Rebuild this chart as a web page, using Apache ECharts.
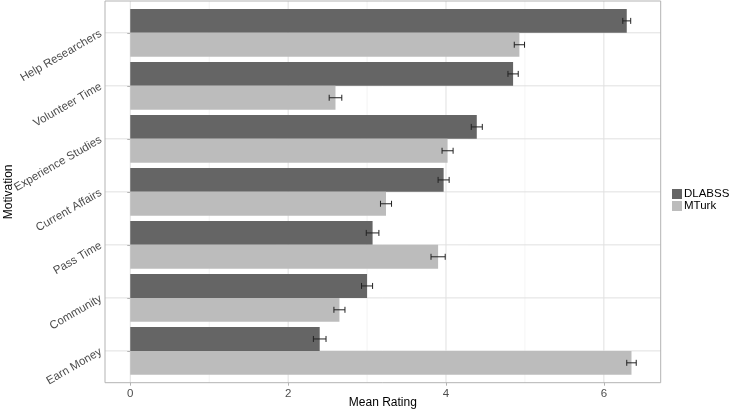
<!DOCTYPE html>
<html><head><meta charset="utf-8">
<script src="https://cdn.jsdelivr.net/npm/echarts@6/dist/echarts.min.js"></script>
<style>html,body{margin:0;padding:0;background:#fff}#c{width:729px;height:410px}</style>
</head><body><div id="c"></div>
<script>
const categories = ['Help Researchers','Volunteer Time','Experience Studies','Current Affairs','Pass Time','Community','Earn Money'];
const seriesNames = ['DLABSS','MTurk'];
const dlabss = [6.29, 4.85, 4.39, 3.97, 3.07, 3.00, 2.40];
const dlabssErr = [0.05, 0.065, 0.07, 0.07, 0.08, 0.07, 0.08];
const mturk = [4.93, 2.60, 4.02, 3.24, 3.90, 2.65, 6.35];
const mturkErr = [0.065, 0.08, 0.07, 0.07, 0.09, 0.07, 0.06];
const xTicks = [0, 2, 4, 6];
const xMinor = [1, 3, 5];

const FONT = '"Liberation Sans", Arial, sans-serif';
const chart = echarts.init(document.getElementById('c'), null, {renderer: 'canvas'});

const errData = [];
dlabss.forEach((v, i) => errData.push([v, i, dlabssErr[i], 0]));
mturk.forEach((v, i) => errData.push([v, i, mturkErr[i], 1]));

const vGridData = xTicks.map(v => [v, 1]).concat(xMinor.map(v => [v, 0]));
const hGridData = categories.map((c, i) => [0, i]);

const X_MIN = -0.32, X_MAX = 6.72;

chart.setOption({
  animation: false,
  textStyle: {fontFamily: FONT},
  legend: {
    data: seriesNames, orient: 'vertical', left: 672, top: 188, itemGap: 0,
    itemWidth: 10, itemHeight: 10, icon: 'rect', padding: 0,
    textStyle: {fontSize: 11.5, color: '#000', fontFamily: FONT, padding: [0, 0, 0, -3]}
  },
  grid: [
    {left: 105, right: 68.3, top: 1, bottom: 27.3, show: true, borderColor: '#b3b3b3', borderWidth: 1, backgroundColor: 'transparent', z: 3, outerBoundsMode: 'none', containLabel: false},
    {left: 105, right: 68.3, top: 6.3, bottom: 32.6, outerBoundsMode: 'none', containLabel: false}
  ],
  xAxis: [
    {gridIndex: 0, type: 'value', min: X_MIN, max: X_MAX,
      axisLine: {show: false}, splitLine: {show: false},
      axisTick: {show: true, length: 3, lineStyle: {color: '#b3b3b3'}, customValues: xTicks},
      axisLabel: {customValues: xTicks, fontSize: 11.5, color: '#4d4d4d', margin: 5, fontFamily: FONT},
      name: 'Mean Rating', nameLocation: 'middle', nameGap: 14, nameMoveOverlap: false,
      nameTextStyle: {fontSize: 12, color: '#000', fontFamily: FONT, verticalAlign: 'top'}},
    {gridIndex: 1, type: 'value', min: X_MIN, max: X_MAX, show: false}
  ],
  yAxis: [
    {gridIndex: 0, type: 'value', min: 0, max: 1, show: false},
    {gridIndex: 1, type: 'category', data: categories, inverse: true,
      axisLine: {show: false}, splitLine: {show: false},
      axisTick: {show: true, alignWithLabel: true, length: 3, lineStyle: {color: '#b3b3b3'}},
      axisLabel: {rotate: 30, fontSize: 11.5, color: '#4d4d4d', margin: 4, fontFamily: FONT},
      name: 'Motivation', nameLocation: 'middle', nameGap: 90, nameMoveOverlap: false,
      nameTextStyle: {fontSize: 12, color: '#000', fontFamily: FONT}}
  ],
  series: [
    {type: 'custom', xAxisIndex: 0, yAxisIndex: 0, z: 0, silent: true,
      data: vGridData, encode: {x: 0, y: 1},
      renderItem: function (params, api) {
        const cs = params.coordSys;
        const x = api.coord([api.value(0), 0])[0];
        const major = api.value(1) === 1;
        return {type: 'line', shape: {x1: x, y1: cs.y, x2: x, y2: cs.y + cs.height},
          style: {stroke: major ? '#e0e0e0' : '#ededed', lineWidth: major ? 1 : 0.6}};
      }},
    {type: 'custom', xAxisIndex: 1, yAxisIndex: 1, z: 0, silent: true,
      data: hGridData, encode: {x: 0, y: 1},
      renderItem: function (params, api) {
        const cs = params.coordSys;
        const y = api.coord([0, api.value(1)])[1];
        return {type: 'line', shape: {x1: cs.x, y1: y, x2: cs.x + cs.width, y2: y},
          style: {stroke: '#e0e0e0', lineWidth: 1}};
      }},
    {name: seriesNames[0], type: 'bar', xAxisIndex: 1, yAxisIndex: 1, data: dlabss, z: 2,
      barGap: '0%', barCategoryGap: '10%', itemStyle: {color: '#656565'}},
    {name: seriesNames[1], type: 'bar', xAxisIndex: 1, yAxisIndex: 1, data: mturk, z: 2,
      barGap: '0%', barCategoryGap: '10%', itemStyle: {color: '#bcbcbc'}},
    {type: 'custom', xAxisIndex: 1, yAxisIndex: 1, z: 4, silent: true,
      data: errData, encode: {x: 0, y: 1},
      renderItem: function (params, api) {
        const v = api.value(0), c = api.value(1), e = api.value(2), s = api.value(3);
        const center = api.coord([v, c]);
        const band = api.size([0, 1])[1];
        const y = center[1] + (s === 0 ? -1 : 1) * band * 0.225;
        const x1 = api.coord([v - e, c])[0], x2 = api.coord([v + e, c])[0];
        const h = 3, st = {stroke: '#222', lineWidth: 1};
        return {type: 'group', children: [
          {type: 'line', shape: {x1: x1, y1: y, x2: x2, y2: y}, style: st},
          {type: 'line', shape: {x1: x1, y1: y - h, x2: x1, y2: y + h}, style: st},
          {type: 'line', shape: {x1: x2, y1: y - h, x2: x2, y2: y + h}, style: st}
        ]};
      }}
  ]
});
</script></body></html>
